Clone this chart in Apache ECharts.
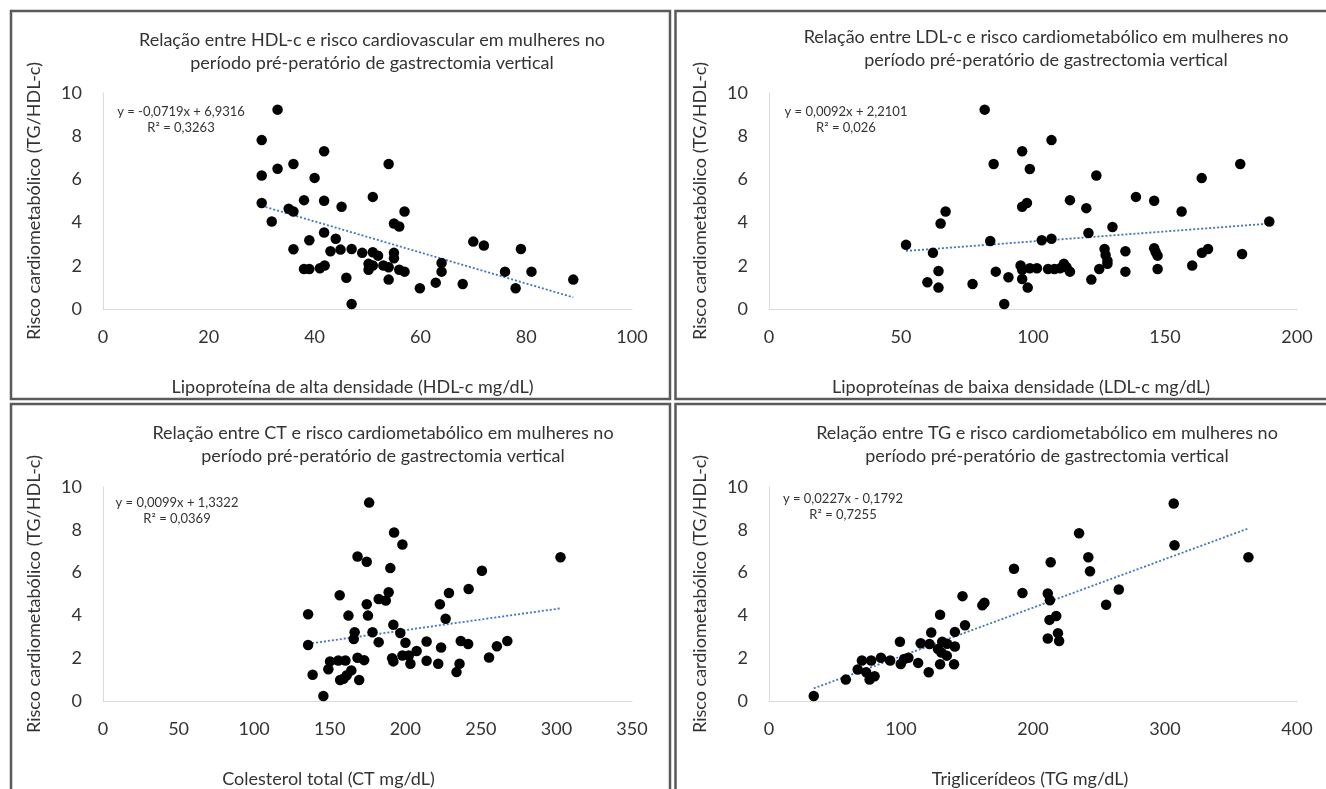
<!DOCTYPE html>
<html>
<head>
<meta charset="utf-8">
<script src="https://cdn.jsdelivr.net/npm/echarts@6/dist/echarts.min.js"></script>
<style>html,body{margin:0;padding:0;background:#fff;}#c{width:1326px;height:789px;}</style>
</head>
<body>
<div id="c"></div>
<script>
// ---- Data ----
const hdlX = [33,30,41.8,36,54,33,30,40,51,38,41.8,30,45.1,35.1,36,57,31.9,55,56,41.8,44,39,70,72,36,44.9,47,43,79,49,51,52,55,55,64,50.2,51,41.9,53,54,38,39,41,50.2,56,57,64,76,81,46,54,88.9,62.9,68,59.9,78,47];
const hdlY = [9.23,7.82,7.3,6.71,6.71,6.49,6.18,6.07,5.19,5.04,5.01,4.91,4.73,4.64,4.51,4.51,4.05,3.96,3.82,3.54,3.25,3.18,3.12,2.94,2.77,2.75,2.78,2.67,2.78,2.6,2.63,2.47,2.6,2.35,2.13,2.09,2.01,2.01,2.01,1.93,1.85,1.85,1.89,1.82,1.82,1.73,1.73,1.73,1.73,1.45,1.36,1.36,1.22,1.16,0.96,0.96,0.23];

const ldlX = [81.7,107,95.9,85.1,98.8,178.5,124,163.9,139,114,145.9,97.7,95.9,120.2,66.9,156.3,65,189.5,130.1,121,103.3,107,83.8,51.9,127.1,135,145.9,146.5,62.1,127.5,164,166.3,179.2,147.2,128.2,128.2,95.3,111.7,160.3,98.8,101.5,105.7,108.1,110.3,112.7,95.9,125.1,147.2,64.2,85.9,114,135,90.7,95.9,122.1,60,77.1,64.2,98,89.1];
const ldlY = [9.23,7.82,7.3,6.71,6.48,6.71,6.18,6.06,5.19,5.04,5.01,4.91,4.73,4.67,4.51,4.51,3.96,4.05,3.8,3.52,3.18,3.25,3.15,2.97,2.78,2.67,2.81,2.63,2.6,2.5,2.6,2.78,2.55,2.47,2.23,2.09,2.01,2.09,2.01,1.89,1.89,1.85,1.85,1.89,1.93,1.82,1.85,1.85,1.76,1.73,1.73,1.73,1.47,1.39,1.36,1.24,1.16,0.99,0.99,0.23];

const ctX = [176.1,192.6,198.1,168.4,174.5,302.7,190.1,250.7,241.9,189,228.9,156.6,182.4,187.1,174.5,222.9,135.7,162.4,175.3,226.7,192.1,196.7,166.5,178.3,165.9,236.7,182.4,200.1,214.1,267.5,241.6,135.7,260.6,223.7,207.5,198.1,202.3,168.4,191.3,255.4,172.8,150.2,155.7,160.4,214.1,192.1,203.4,221.8,235.9,149.1,164.3,233.9,138.7,161.3,159.1,156.9,169.5,145.8];
const ctY = [9.27,7.87,7.31,6.75,6.51,6.72,6.21,6.09,5.23,5.08,5.05,4.94,4.77,4.7,4.52,4.52,4.05,3.99,3.99,3.84,3.56,3.18,3.21,3.21,2.9,2.8,2.75,2.72,2.78,2.8,2.66,2.62,2.56,2.5,2.34,2.13,2.13,2.02,2.0,2.03,1.91,1.85,1.89,1.89,1.88,1.85,1.74,1.74,1.74,1.48,1.43,1.35,1.23,1.2,1.04,0.98,0.98,0.23];

const tgX = [306.6,234.9,307.2,241.9,363.2,213.4,185.6,243.2,265,192,211.2,146.6,212.8,163.2,161.6,255.4,129.6,217.6,212.5,148.5,122.9,140.8,218.9,211.2,219.8,99.2,114.9,131.2,121.6,135,140.8,128,130.6,134.7,84.8,105.6,70.4,77.4,91.8,102.4,99.8,113,129.6,140.2,67.2,73.6,121,80,76.2,58.2,33.9];
const tgY = [9.23,7.84,7.28,6.72,6.72,6.48,6.18,6.06,5.21,5.05,5.02,4.9,4.71,4.59,4.47,4.5,4.03,3.97,3.79,3.54,3.2,3.23,3.17,2.92,2.8,2.77,2.7,2.77,2.66,2.67,2.55,2.43,2.27,2.12,2.02,2.02,1.89,1.89,1.89,1.96,1.73,1.78,1.72,1.72,1.47,1.34,1.34,1.16,1.0,1.0,0.23];

// Trendline coefficients shown on the chart: [slope, intercept]
const hdlTrend = [-0.0719, 6.9316];
const ldlTrend = [0.0092, 2.2101];
const ctTrend = [0.0099, 1.3322];
const tgTrend = [0.0227, -0.1792];

const titles = [
  'Relação entre HDL-c e risco cardiovascular em mulheres no\nperíodo pré-peratório de gastrectomia vertical',
  'Relação entre LDL-c e risco cardiometabólico em mulheres no\nperíodo pré-peratório de gastrectomia vertical',
  'Relação entre CT e risco cardiometabólico em mulheres no\nperíodo pré-peratório de gastrectomia vertical',
  'Relação entre TG e risco cardiometabólico em mulheres no\nperíodo pré-peratório de gastrectomia vertical'
];
const xNames = ['Lipoproteína de alta densidade (HDL-c mg/dL)','Lipoproteínas de baixa densidade (LDL-c mg/dL)','Colesterol total (CT mg/dL)','Triglicerídeos (TG mg/dL)'];
const yName = 'Risco cardiometabólico (TG/HDL-c)';
const xMax = [100, 200, 350, 400];
const xInterval = [20, 50, 50, 100];
const equations = [
  'y = -0,0719x + 6,9316\nR² = 0,3263',
  'y = 0,0092x + 2,2101\nR² = 0,026',
  'y = 0,0099x + 1,3322\nR² = 0,0369',
  'y = 0,0227x - 0,1792\nR² = 0,7255'
];

// ---- Layout ----
const FONT = 'Lato, "Open Sans", sans-serif';
const TXT = '#333333';
const grids = [
  {left:103, top:93, width:529, height:216},
  {left:769, top:93, width:528, height:216},
  {left:103, top:487, width:529, height:216},
  {left:769, top:487, width:528, height:216}
];
const titlePos = [[372,29],[1046,26],[383,422],[1047,422]];
const eqPos = [[181,104],[846,104],[177,495],[843,491]];
const xNameShift = [-15,-12,-39,-3];

const sets = [[hdlX,hdlY,hdlTrend],[ldlX,ldlY,ldlTrend],[ctX,ctY,ctTrend],[tgX,tgY,tgTrend]];

function trendLine(xs, coef){
  const lo = Math.min(...xs), hi = Math.max(...xs);
  return [[lo, coef[0]*lo+coef[1]], [hi, coef[0]*hi+coef[1]]];
}

const option = {
  animation:false,
  backgroundColor:'#fff',
  title: titles.map((t,i)=>({
    text:t, left:titlePos[i][0], top:titlePos[i][1], textAlign:'center', padding:0,
    textStyle:{fontFamily:FONT, fontSize:18, fontWeight:'normal', color:TXT, lineHeight:23}
  })),
  grid: grids,
  xAxis: grids.map((g,i)=>({
    type:'value', gridIndex:i, min:0, max:xMax[i], interval:xInterval[i],
    name:xNames[i], nameLocation:'middle', nameGap:69,
    nameTextStyle:{fontFamily:FONT, fontSize:18, color:TXT,
      padding: xNameShift[i] < 0 ? [0, -2*xNameShift[i], 0, 0] : [0,0,0,2*xNameShift[i]]},
    axisLine:{show:true, lineStyle:{color:'#d9d9d9', width:1}},
    axisTick:{show:false}, splitLine:{show:false},
    axisLabel:{fontFamily:FONT, fontSize:18, color:TXT, margin:19}
  })),
  yAxis: grids.map((g,i)=>({
    type:'value', gridIndex:i, min:0, max:10, interval:2,
    name:yName, nameLocation:'middle', nameGap:60, nameRotate:90,
    nameTextStyle:{fontFamily:FONT, fontSize:18, color:TXT},
    axisLine:{show:true, lineStyle:{color:'#d9d9d9', width:1}},
    axisTick:{show:false}, splitLine:{show:false},
    axisLabel:{fontFamily:FONT, fontSize:18, color:TXT, margin:21}
  })),
  series: [].concat(...sets.map((s,i)=>[
    {type:'line', xAxisIndex:i, yAxisIndex:i, data:trendLine(s[0], s[2]), symbol:'none', silent:true,
     lineStyle:{color:'#4472C4', width:1.8, type:[2,2]}, z:1},
    {type:'scatter', xAxisIndex:i, yAxisIndex:i, data:s[0].map((x,k)=>[x, s[1][k]]),
     symbol:'circle', symbolSize:10.5, itemStyle:{color:'#000', opacity:1}, z:2}
  ])),
  graphic: [
    {type:'rect', shape:{x:11,y:11,width:659,height:388}, style:{fill:'none', stroke:'#5a5a5a', lineWidth:2.5}},
    {type:'rect', shape:{x:675.5,y:11,width:660,height:388}, style:{fill:'none', stroke:'#5a5a5a', lineWidth:2.5}},
    {type:'rect', shape:{x:11,y:404,width:659,height:400}, style:{fill:'none', stroke:'#5a5a5a', lineWidth:2.5}},
    {type:'rect', shape:{x:675.5,y:404,width:660,height:400}, style:{fill:'none', stroke:'#5a5a5a', lineWidth:2.5}}
  ].concat(equations.map((e,i)=>({
    type:'text', x:eqPos[i][0], y:eqPos[i][1],
    style:{text:e, fontFamily:FONT, fontSize:13, fill:TXT, align:'center', verticalAlign:'top', lineHeight:16}
  })))
};

echarts.init(document.getElementById('c')).setOption(option);
</script>
</body>
</html>
